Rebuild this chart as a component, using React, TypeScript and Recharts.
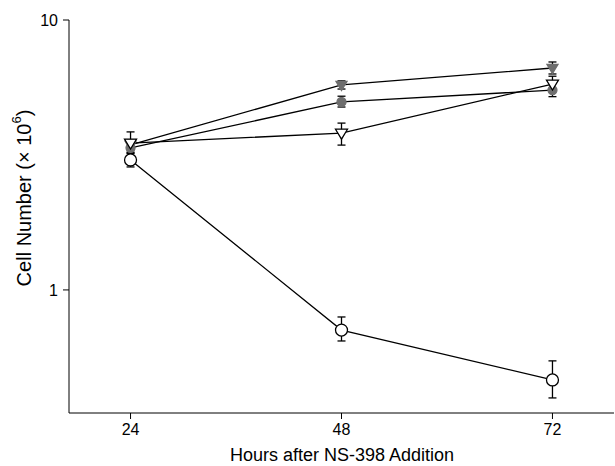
import React from "react";
import { LineChart, Line, XAxis, YAxis, ErrorBar } from "recharts";

// hours after NS-398 addition
const hours = [24, 48, 72];

// cell number (x 10^6)
const grayTriangle = [3.45, 5.75, 6.64];
const grayTriangleErr = [[0.15, 0.15], [0.2, 0.2], [0.33, 0.35]];
const grayCircle = [3.36, 4.97, 5.5];
const grayCircleErr = [[0.12, 0.12], [0.21, 0.25], [0.3, 0.32]];
const openTriangle = [3.5, 3.81, 5.79];
const openTriangleErr = [[0.3, 0.35], [0.37, 0.34], [0.3, 0.4]];
const openCircle = [3.03, 0.71, 0.464];
const openCircleErr = [[0.175, 0.19], [0.063, 0.084], [0.066, 0.082]];

const yTicks = [1, 10];
const xTicks = [24, 48, 72];

const data = hours.map((h, i) => ({
  h,
  gt: grayTriangle[i],
  gtErr: grayTriangleErr[i],
  gc: grayCircle[i],
  gcErr: grayCircleErr[i],
  ot: openTriangle[i],
  otErr: openTriangleErr[i],
  oc: openCircle[i],
  ocErr: openCircleErr[i],
}));

if (typeof document !== "undefined") document.body.style.margin = "0";

const FONT = "'Liberation Sans', Arial, sans-serif";
const GRAY = "#6e6e6e";

const triDot = (fill: string, stroke: string, s: number) => (p: any) => {
  const { cx, cy, key } = p;
  if (cx == null || cy == null) return <g key={key} />;
  const pts = `${cx - s},${cy - s * 0.65} ${cx + s},${cy - s * 0.65} ${cx},${cy + s}`;
  return <polygon key={key} points={pts} fill={fill} stroke={stroke} strokeWidth={1.3} />;
};

const circDot = (fill: string, stroke: string, r: number) => (p: any) => {
  const { cx, cy, key } = p;
  if (cx == null || cy == null) return <g key={key} />;
  return <circle key={key} cx={cx} cy={cy} r={r} fill={fill} stroke={stroke} strokeWidth={1.3} />;
};

export default function App() {
  return (
    <div style={{ position: "relative", width: 615, height: 466, background: "#fff" }}>
      <LineChart
        width={615}
        height={466}
        data={data}
        margin={{ top: 20, right: 1, bottom: 0, left: 0 }}
      >
        <XAxis
          dataKey="h"
          type="number"
          domain={[17, 79]}
          ticks={xTicks}
          height={53}
          stroke="#000"
          tickSize={6}
          tick={{ fill: "#000", fontSize: 16, fontFamily: FONT }}
          tickMargin={5}
        />
        <YAxis
          scale="log"
          domain={[0.35, 10]}
          allowDataOverflow
          ticks={yTicks}
          width={69}
          stroke="#000"
          tickSize={6}
          tick={{ fill: "#000", fontSize: 16, fontFamily: FONT }}
          tickMargin={5}
        />
        <Line dataKey="oc" stroke="#000" strokeWidth={1.3} dot={circDot("#fff", "#000", 6)} isAnimationActive={false}>
          <ErrorBar dataKey="ocErr" width={4} stroke="#000" strokeWidth={1.3} />
        </Line>
        <Line dataKey="gc" stroke="#000" strokeWidth={1.3} dot={circDot(GRAY, GRAY, 4.5)} isAnimationActive={false}>
          <ErrorBar dataKey="gcErr" width={4} stroke="#000" strokeWidth={1.3} />
        </Line>
        <Line dataKey="gt" stroke="#000" strokeWidth={1.3} dot={triDot(GRAY, GRAY, 5.5)} isAnimationActive={false}>
          <ErrorBar dataKey="gtErr" width={4} stroke="#000" strokeWidth={1.3} />
        </Line>
        <Line dataKey="ot" stroke="#000" strokeWidth={1.3} dot={triDot("#fff", "#000", 6)} isAnimationActive={false}>
          <ErrorBar dataKey="otErr" width={4} stroke="#000" strokeWidth={1.3} />
        </Line>
      </LineChart>
      <svg
        width={615}
        height={466}
        style={{ position: "absolute", left: 0, top: 0, pointerEvents: "none" }}
      >
        <text
          x={24}
          y={198}
          transform="rotate(-90 24 198)"
          textAnchor="middle"
          dominantBaseline="central"
          fontFamily={FONT}
          fontSize={20}
          fill="#000"
        >
          Cell Number (× 10<tspan dy={-8} fontSize={13}>6</tspan>
          <tspan dy={8}>)</tspan>
        </text>
        <text
          x={342}
          y={455}
          textAnchor="middle"
          dominantBaseline="central"
          fontFamily={FONT}
          fontSize={18}
          fill="#000"
        >
          Hours after NS-398 Addition
        </text>
      </svg>
    </div>
  );
}
